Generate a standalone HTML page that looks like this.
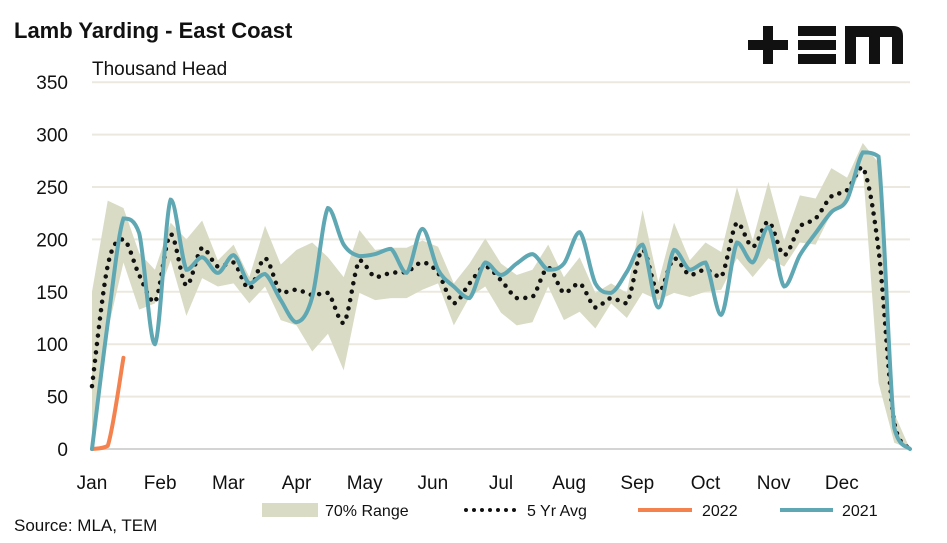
<!DOCTYPE html>
<html><head><meta charset="utf-8"><style>
body{margin:0;background:#fff;font-family:"Liberation Sans",Arial,sans-serif}
svg{display:block}
</style></head><body>
<svg width="947" height="543" xmlns="http://www.w3.org/2000/svg" id="chart">
<text x="14" y="38" font-size="22" font-weight="bold" fill="#111">Lamb Yarding - East Coast</text>
<text x="92" y="75" font-size="19" fill="#111">Thousand Head</text>
<g fill="#111">
<rect x="748" y="40" width="40" height="10"/><rect x="763" y="26" width="10" height="38"/>
<rect x="798" y="26" width="38" height="10"/><rect x="798" y="40" width="38" height="10"/><rect x="798" y="54" width="38" height="10"/>
<path d="M845 64 V26 H893 Q903 26 903 36 V64 H892 V37 H880 V64 H869 V37 H856 V64 Z"/>
</g>
<g id="grid"></g>
<g id="ylabels"></g>
<g id="xlabels"></g>
<g id="series"></g>
<g font-size="16" fill="#111">
<rect x="262" y="503" width="56" height="14" fill="#d9dbc5"/>
<text x="325" y="516">70% Range</text>
<line x1="466" y1="510" x2="515" y2="510" stroke="#111" stroke-width="4" stroke-linecap="round" stroke-dasharray="0 8"/>
<text x="527" y="516">5 Yr Avg</text>
<line x1="638" y1="510" x2="692" y2="510" stroke="#f4824f" stroke-width="4"/>
<text x="702" y="516">2022</text>
<line x1="780" y1="510" x2="833" y2="510" stroke="#5fa8b3" stroke-width="4"/>
<text x="842" y="516">2021</text>
</g>
<text x="14" y="531" font-size="17" fill="#111">Source: MLA, TEM</text>
</svg>
<script>
const months=["Jan","Feb","Mar","Apr","May","Jun","Jul","Aug","Sep","Oct","Nov","Dec"];
const yTicks=[0,50,100,150,200,250,300,350];
const rangeHigh=[150,237,230,187,171,216,200,218,180,195,164,213,176,190,197,183,164,209,190,192,192,199,193,158,177,201,177,166,171,195,164,183,149,158,149,228,159,216,180,197,188,250,199,255,199,242,239,268,259,292,273,34,0];
const rangeLow=[0,113,178,133,139,180,127,163,155,158,139,155,123,118,93,110,75,149,142,144,144,152,158,118,145,155,130,118,121,155,123,131,115,139,125,149,142,149,145,150,152,182,164,182,174,197,195,225,238,269,63,6,0];
const avg5=[60,175,200,166,140,205,156,192,174,178,153,182,149,152,147,149,120,180,164,168,169,178,168,139,158,174,161,144,145,173,149,158,135,144,139,190,149,182,166,171,164,216,193,217,185,212,220,241,247,269,190,25,0];
const y2021=[0,120,220,206,100,238,171,183,168,185,158,167,142,121,145,230,195,184,186,191,168,210,171,155,144,178,166,177,186,171,177,207,158,149,169,195,135,190,171,178,128,197,178,212,155,185,206,226,238,283,279,20,0];
const y2022=[0,3,87];
const X0=92,X1=910,Y0=449,PX=1.048;
const xs=i=>X0+i*(X1-X0)/52;
const ys=v=>Y0-v*PX;
const NS="http://www.w3.org/2000/svg";
function mk(t,a,p){const e=document.createElementNS(NS,t);for(const k in a)e.setAttribute(k,a[k]);p.appendChild(e);return e;}
const grid=document.getElementById('grid'),yl=document.getElementById('ylabels'),xl=document.getElementById('xlabels'),ser=document.getElementById('series');
yTicks.forEach(t=>{
 const l=mk('line',{x1:X0,x2:X1,y1:ys(t),y2:ys(t),stroke:t===0?'#d4d4d4':'#ebe9df','stroke-width':2},grid);
 
 
 const tx=mk('text',{x:68,y:ys(t)+7,'text-anchor':'end','font-size':19,fill:'#111'},yl);tx.textContent=t;
 
 
});
months.forEach((m,i)=>{
 const tx=mk('text',{x:X0+i*(X1-X0)/12,y:489,'text-anchor':'middle','font-size':19,fill:'#111'},xl);tx.textContent=m;
 
 
});
let pts=rangeHigh.map((v,i)=>xs(i)+','+ys(v));
for(let i=rangeLow.length-1;i>=0;i--)pts.push(xs(i)+','+ys(rangeLow[i]));
const band=mk('polygon',{points:pts.join(' '),fill:'#d9dbc5'},ser);


function cl(v,a,b){return Math.max(Math.min(a,b),Math.min(Math.max(a,b),v));}
function smooth(arr){const p=arr.map((v,i)=>[xs(i),ys(v)]);let d='M'+p[0][0]+','+p[0][1];
 for(let i=0;i<p.length-1;i++){const a=p[Math.max(i-1,0)],b=p[i],c=p[i+1],e=p[Math.min(i+2,p.length-1)];
 const y1=cl(b[1]+(c[1]-a[1])/6,b[1],c[1]),y2=cl(c[1]-(e[1]-b[1])/6,b[1],c[1]);
 d+=' C'+(b[0]+(c[0]-a[0])/6)+','+y1+' '+(c[0]-(e[0]-b[0])/6)+','+y2+' '+c[0]+','+c[1];}
 return d;}
const avg=mk('path',{d:smooth(avg5),fill:'none',stroke:'#111','stroke-width':4.5,'stroke-linecap':'round','stroke-dasharray':'0 8.5'},ser);


const l22=mk('path',{d:smooth(y2022),fill:'none',stroke:'#f4824f','stroke-width':4,'stroke-linecap':'round'},ser);


const l21=mk('path',{d:smooth(y2021),fill:'none',stroke:'#5fa8b3','stroke-width':4,'stroke-linecap':'round'},ser);


</script>
</body></html>
